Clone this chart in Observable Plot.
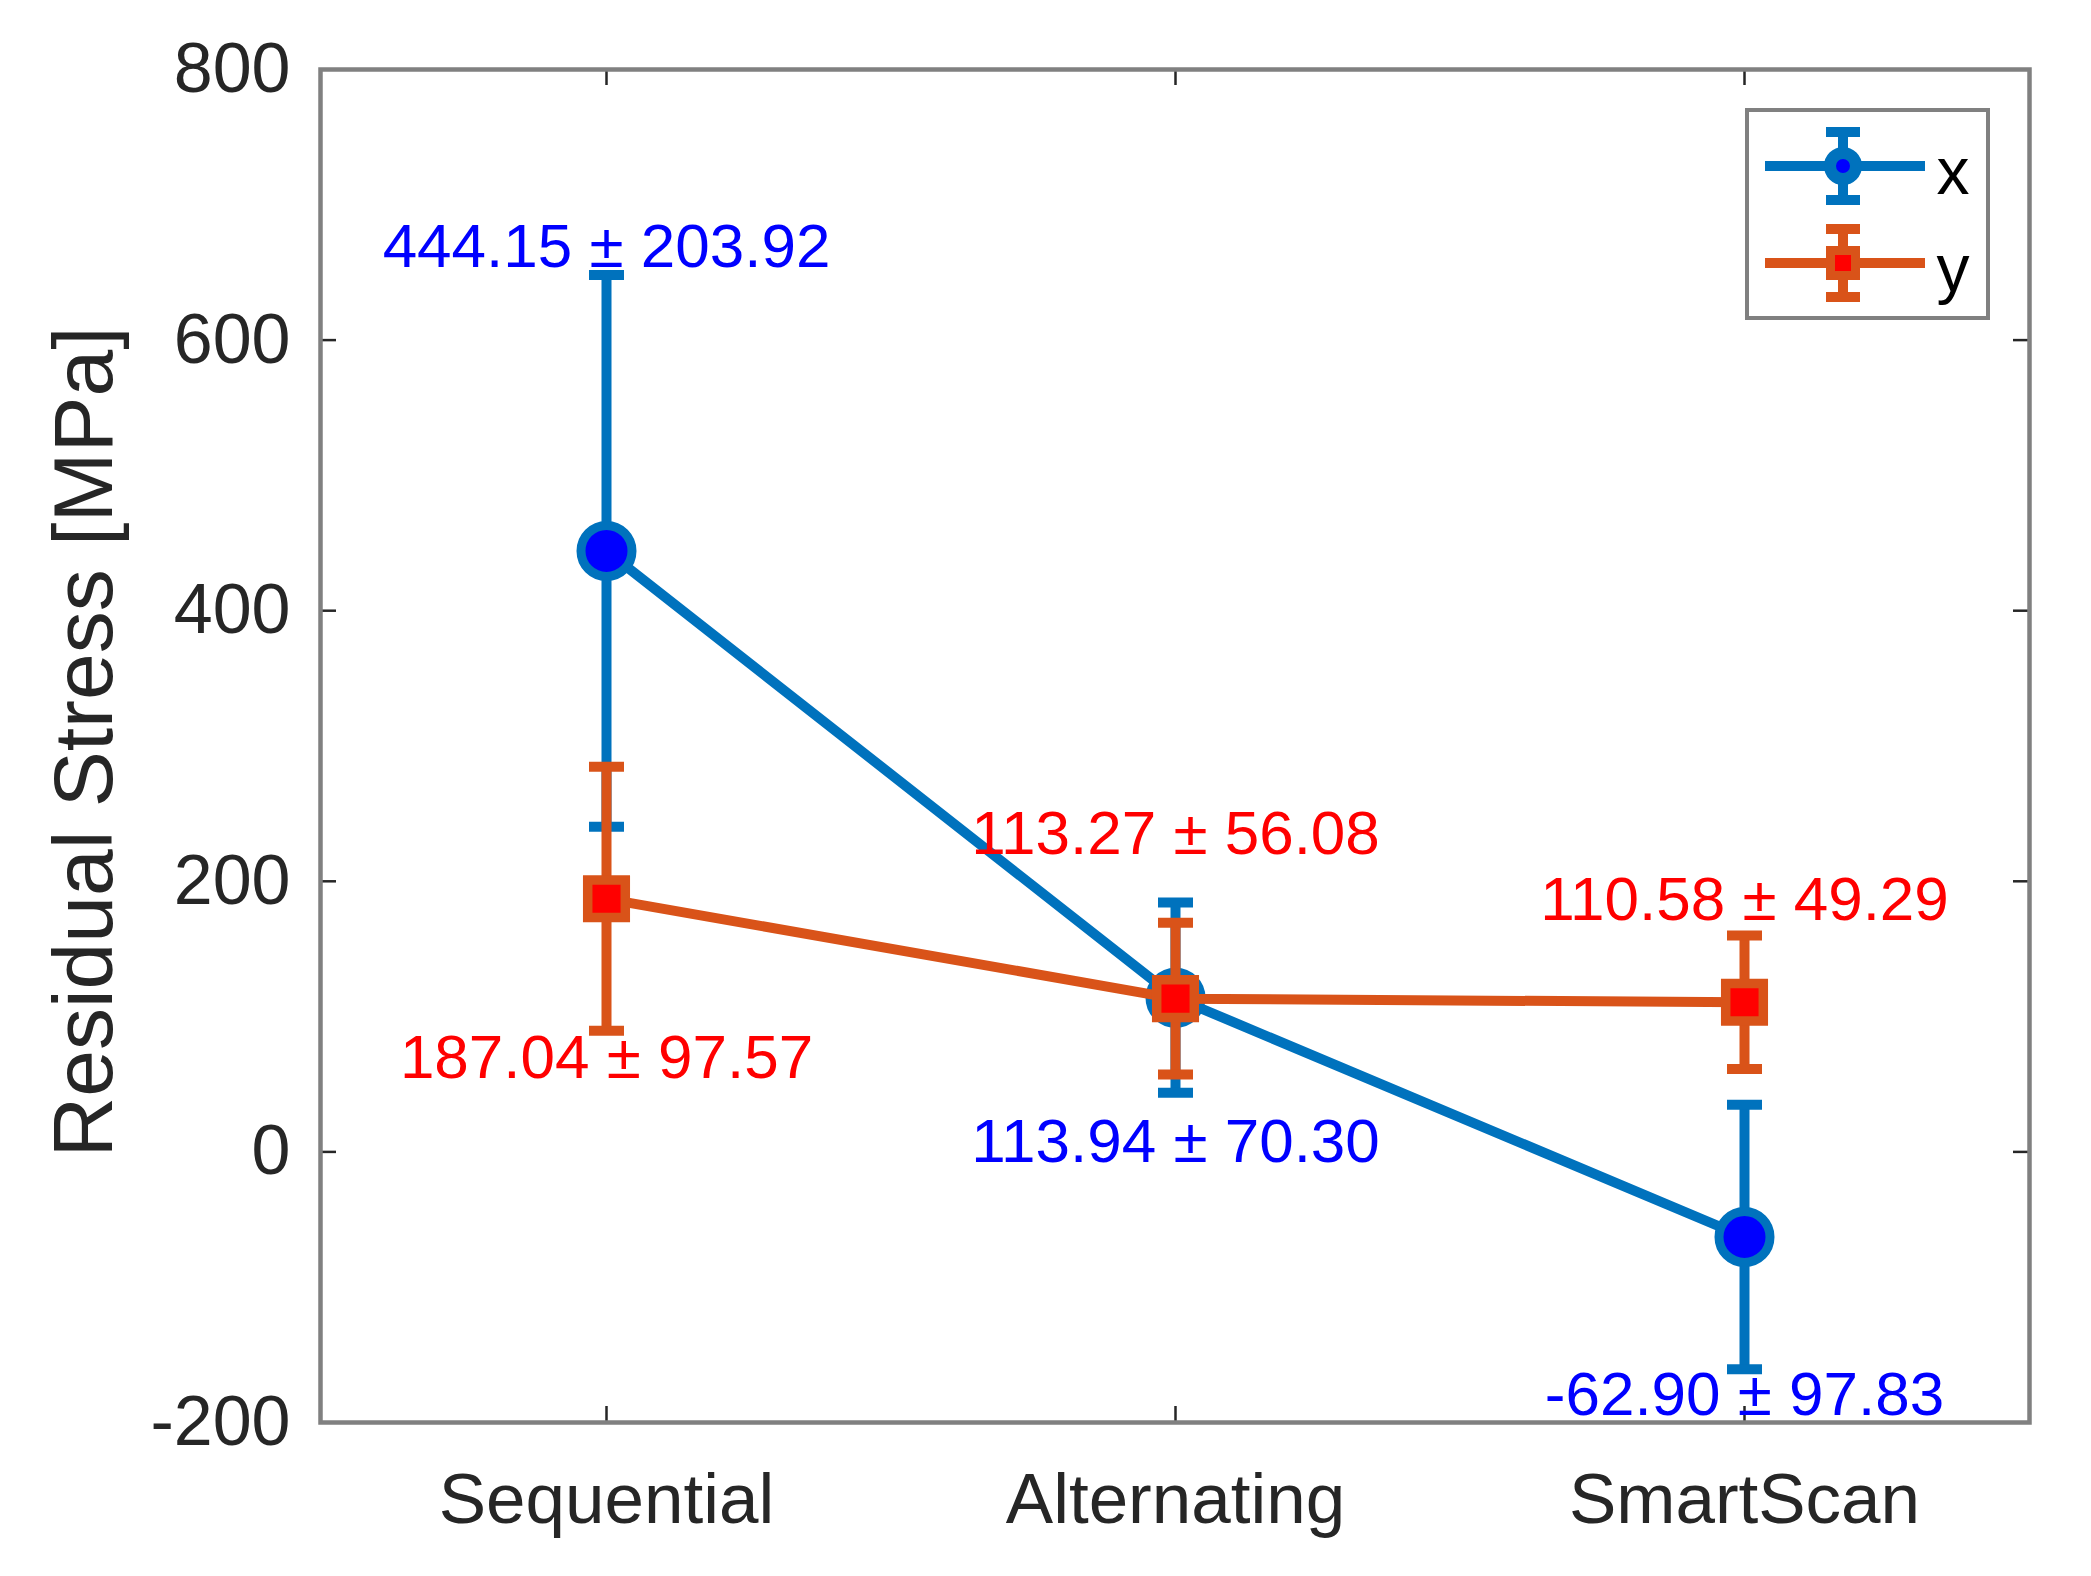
<!DOCTYPE html>
<html>
<head>
<meta charset="utf-8">
<script src="https://cdn.jsdelivr.net/npm/d3@7"></script>
<script src="https://cdn.jsdelivr.net/npm/@observablehq/plot@0.6"></script>
<style>
  html, body { margin: 0; padding: 0; background: #ffffff; }
  #chart svg { display: block; }
</style>
</head>
<body>
<div id="chart"></div>
<script>
// ---- data ----
const categories = ["Sequential", "Alternating", "SmartScan"];
const xMean = [444.15, 113.94, -62.90];
const xStd  = [203.92, 70.30, 97.83];
const yMean = [187.04, 113.27, 110.58];
const yStd  = [97.57, 56.08, 49.29];
const yTicks = [-200, 0, 200, 400, 600, 800];
const seriesNames = ["x", "y"];
const yAxisTitle = "Residual Stress [MPa]";

// ---- label placement (style) ----
const xLabelSide = ["above", "below", "below"];
const yLabelSide = ["below", "above", "above"];
const xLabelDy = [-8, 25, 2];
const yLabelDy = [3, -69, -16];

// ---- styles ----
const W = 2091, H = 1576;
const mL = 320, mR = 62, mT = 69, mB = 154;
const plotW = W - mL - mR, plotH = H - mT - mB;
const blue = "#0072BD", blueFill = "#0000FF", blueText = "#0000FF";
const orange = "#D95319", redFill = "#FF0000", redText = "#FF0000";
const lw = 10;
const frameColor = "#808080";
const font = "'Liberation Sans', Arial, Helvetica, sans-serif";

const capSymbol = {
  draw(context, size) {
    const w = Math.sqrt(size / Math.PI);
    context.moveTo(-w, 0);
    context.lineTo(w, 0);
  }
};

function rows(mean, std, side, dys) {
  return categories.map((c, i) => ({
    cat: c,
    mean: mean[i],
    lo: mean[i] - std[i],
    hi: mean[i] + std[i],
    label: `${mean[i].toFixed(2)} ± ${std[i].toFixed(2)}`,
    ly: side[i] === "above" ? mean[i] + std[i] : mean[i] - std[i],
    anchor: side[i] === "above" ? "bottom" : "top",
    dy: dys[i]
  }));
}
const xs = rows(xMean, xStd, xLabelSide, xLabelDy);
const ys = rows(yMean, yStd, yLabelSide, yLabelDy);

function seriesMarks(data, stroke, fill, symbol, r, sw) {
  return [
    Plot.line(data, {x: "cat", y: "mean", stroke, strokeWidth: lw}),
    Plot.ruleX(data, {x: "cat", y1: "lo", y2: "hi", stroke, strokeWidth: lw}),
    Plot.dot(data, {x: "cat", y: "hi", symbol: capSymbol, r: 17.5, stroke, strokeWidth: 10, fill: "none"}),
    Plot.dot(data, {x: "cat", y: "lo", symbol: capSymbol, r: 17.5, stroke, strokeWidth: 10, fill: "none"}),
    Plot.dot(data, {x: "cat", y: "mean", symbol, r, fill, stroke, strokeWidth: sw})
  ];
}
function labelMarks(data, color) {
  return data.map(d => Plot.text([d], {
    x: "cat", y: "ly", text: "label", fill: color, fontSize: 62,
    lineAnchor: d.anchor, textAnchor: "middle", dy: d.dy, fontFamily: font
  }));
}

const chart = Plot.plot({
  width: W, height: H,
  marginLeft: mL, marginRight: mR, marginTop: mT, marginBottom: mB,
  style: {fontFamily: font, background: "#ffffff", color: "#262626", overflow: "visible"},
  x: {type: "point", domain: categories, padding: 0.5},
  y: {domain: [-200, 800]},
  marks: [
    // axes text
    Plot.axisY(yTicks, {anchor: "left", tickSize: 0, tickPadding: 30, fontSize: 70, fill: "#262626",
      label: null, tickFormat: d => String(d)}),
    Plot.axisX(categories, {anchor: "bottom", tickSize: 0, tickPadding: 50, fontSize: 71, fill: "#262626", label: null}),
    // inward ticks on all four sides
    Plot.ruleY(yTicks, {y: d => d, insetRight: plotW - 16, stroke: "#262626", strokeWidth: 2.5}),
    Plot.ruleY(yTicks, {y: d => d, insetLeft: plotW - 16, stroke: "#262626", strokeWidth: 2.5}),
    Plot.ruleX(categories, {x: d => d, insetTop: plotH - 16, stroke: "#262626", strokeWidth: 2.5}),
    Plot.ruleX(categories, {x: d => d, insetBottom: plotH - 16, stroke: "#262626", strokeWidth: 2.5}),
    // y axis title
    Plot.text([yAxisTitle], {frameAnchor: "left", text: d => d, rotate: -90, dx: -235, dy: -4,
      fontSize: 84, fill: "#262626", lineAnchor: "middle", textAnchor: "middle"}),
    // series
    ...seriesMarks(xs, blue, blueFill, "circle", 25.5, 9),
    ...seriesMarks(ys, orange, redFill, "square", 21.2, 9.5),
    ...labelMarks(xs, blueText),
    ...labelMarks(ys, redText),
    Plot.frame({stroke: frameColor, strokeWidth: 4.5})
  ]
});
document.getElementById("chart").appendChild(chart);

// ---- legend (inside the axes, top-right) ----
const svg = d3.select(chart);
const fx = W - mR, fy = mT;
const lg = svg.append("g").attr("class", "legend");
lg.append("rect")
  .attr("x", fx - 282).attr("y", fy + 41)
  .attr("width", 241).attr("height", 208)
  .attr("fill", "#ffffff").attr("stroke", frameColor).attr("stroke-width", 4);
const entries = [
  {name: seriesNames[0], stroke: blue, fill: blueFill, shape: "circle", y: fy + 97},
  {name: seriesNames[1], stroke: orange, fill: redFill, shape: "square", y: fy + 194}
];
entries.forEach(e => {
  const cx = fx - 186;
  lg.append("line").attr("x1", fx - 264).attr("x2", fx - 104).attr("y1", e.y).attr("y2", e.y)
    .attr("stroke", e.stroke).attr("stroke-width", lw);
  lg.append("line").attr("x1", cx).attr("x2", cx).attr("y1", e.y - 34).attr("y2", e.y + 34)
    .attr("stroke", e.stroke).attr("stroke-width", lw);
  [-34, 34].forEach(o => lg.append("line").attr("x1", cx - 17).attr("x2", cx + 17)
    .attr("y1", e.y + o).attr("y2", e.y + o).attr("stroke", e.stroke).attr("stroke-width", 10));
  if (e.shape === "circle") {
    lg.append("circle").attr("cx", cx).attr("cy", e.y).attr("r", 13)
      .attr("fill", e.fill).attr("stroke", e.stroke).attr("stroke-width", 12);
  } else {
    lg.append("rect").attr("x", cx - 12.5).attr("y", e.y - 12.5).attr("width", 25).attr("height", 25)
      .attr("fill", e.fill).attr("stroke", e.stroke).attr("stroke-width", 9);
  }
  lg.append("text").attr("x", fx - 76).attr("y", e.y + 28)
    .attr("font-size", 66).attr("fill", "#000000").attr("font-family", font).text(e.name);
});
</script>
</body>
</html>
